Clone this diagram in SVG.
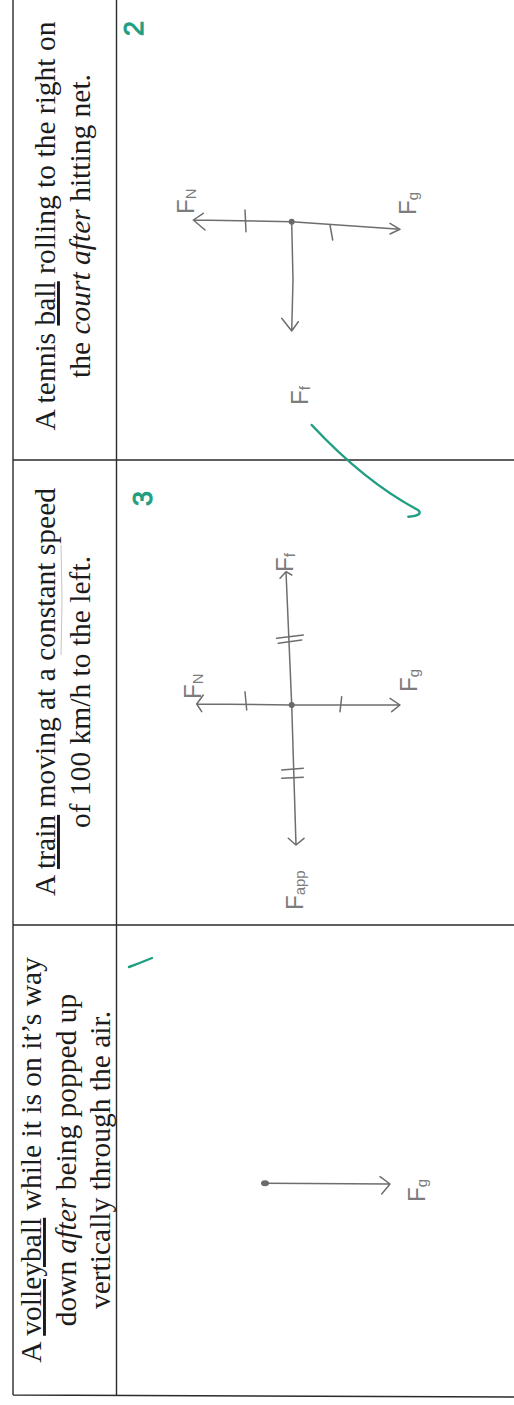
<svg xmlns="http://www.w3.org/2000/svg" width="514" height="1405" viewBox="0 0 514 1405">
<style>
.grid{stroke:#2b2b2b;stroke-width:1.4;fill:none}
.q{font-family:"Liberation Serif",serif;font-size:29.5px;fill:#1c1c1c}
.u{text-decoration:underline}
.i{font-style:italic}
.pen{stroke:#6e6e6e;stroke-width:1.5;fill:none;stroke-linecap:round;stroke-linejoin:round}
.lbl{font-family:"Liberation Sans",sans-serif;font-size:24px;fill:#7c7c7c}
.sub{font-size:15px}
.grn{font-family:"Liberation Sans",sans-serif;font-size:27px;fill:#1f9e82;stroke:#1f9e82;stroke-width:1}
.gstroke{stroke:#1f9e82;stroke-width:2.4;fill:none;stroke-linecap:round}
</style>
<rect width="514" height="1405" fill="#ffffff"/>
<g id="table">
<path class="grid" d="M13,0 V1395 M116.5,0 V1395 M13,460 H514 M13,925 H514 M13,1395 L514,1397"/>
</g>
<g id="row1-text">
<text class="q" text-anchor="middle" transform="translate(55,226) rotate(-90)">A tennis <tspan class="u">ball</tspan> rolling to the right on</text>
<text class="q" text-anchor="middle" transform="translate(90,226) rotate(-90)">the <tspan class="i">court after</tspan> hitting net.</text>
</g>
<g id="row2-text">
<text class="q" text-anchor="middle" transform="translate(55,692) rotate(-90)">A <tspan class="u">train</tspan> moving at a constant speed</text>
<text class="q" text-anchor="middle" transform="translate(90,692) rotate(-90)">of 100 km/h to the left.</text>
<path d="M61,545 Q63,600 61,655" stroke="#c4c4c4" stroke-width="1" fill="none"/>
</g>
<g id="row3-text">
<text class="q" text-anchor="middle" transform="translate(41,1160) rotate(-90)">A <tspan class="u">volleyball</tspan> while it is on it’s way</text>
<text class="q" text-anchor="middle" transform="translate(75.5,1160) rotate(-90)">down <tspan class="i">after</tspan> being popped up</text>
<text class="q" text-anchor="middle" transform="translate(110,1160) rotate(-90)">vertically through the air.</text>
</g>
<g id="fbd-tennis">
<path class="pen" d="M291.7,221.7 L193.3,220 M203.3,213.3 L193.3,220 L205,230"/>
<path class="pen" d="M291.7,221.7 L400,229.3 M390,223.3 L400,229.3 L390,234"/>
<path class="pen" d="M291.7,221.7 L293,280 L291.7,331 M281.7,318.3 L291.7,331 L298.3,321.7"/>
<path class="pen" d="M245,210 L246,231.7 M330,225 L332.7,240"/>
<circle cx="291.7" cy="221.7" r="3" fill="#6a6a6a"/>
<text class="lbl" transform="translate(194,214) rotate(-90)">F<tspan class="sub" dy="2">N</tspan></text>
<text class="lbl" transform="translate(416,215) rotate(-90)">F<tspan class="sub" dy="2">g</tspan></text>
<text class="lbl" transform="translate(308,405) rotate(-90)">F<tspan class="sub" dy="2">f</tspan></text>
</g>
<g id="fbd-train">
<path class="pen" d="M291.7,705 L196.7,704 M203.3,695 L196.7,704 L201.7,711.7"/>
<path class="pen" d="M291.7,705 L400,705 M390,698.3 L400,705 L391.7,711.7"/>
<path class="pen" d="M291.7,705 L286,571.7 M280,578.3 L286,571.7 L291.7,575"/>
<path class="pen" d="M291.7,705 L296,845 M288.3,838.3 L296,845 L304,838.3"/>
<path class="pen" d="M245,691.7 L246.7,710 M341.7,696.7 L340,711.7"/>
<path class="pen" d="M276.7,638.3 L303.3,635 M278.3,643.3 L301.7,640 M281.7,770 L303.3,768.3 M281.7,778.3 L303.3,777.3"/>
<circle cx="291.7" cy="705" r="3" fill="#6a6a6a"/>
<text class="lbl" transform="translate(201,699) rotate(-90)">F<tspan class="sub" dy="2">N</tspan></text>
<text class="lbl" transform="translate(417,692) rotate(-90)">F<tspan class="sub" dy="2">g</tspan></text>
<text class="lbl" transform="translate(293,572) rotate(-90)">F<tspan class="sub" dy="2">f</tspan></text>
<text class="lbl" transform="translate(303,910) rotate(-90)">F<tspan class="sub" dy="2">app</tspan></text>
</g>
<g id="fbd-volleyball">
<path class="pen" d="M265,1183.3 L390,1184 M380,1176.7 L390,1184 L381.7,1194"/>
<ellipse cx="265" cy="1183.3" rx="4" ry="3" fill="#6a6a6a"/>
<text class="lbl" transform="translate(425,1202) rotate(-90)">F<tspan class="sub" dy="2">g</tspan></text>
</g>
<g id="marks">
<text class="grn" transform="translate(143,36) rotate(-90)">2</text>
<text class="grn" transform="translate(152,506) rotate(-90)">3</text>
<path class="gstroke" d="M129,967 Q140,963 152,958"/>
<path class="gstroke" d="M311.7,425 Q365,482 418,510 C422,513 419,516 408.3,516.7"/>
</g>
</svg>
